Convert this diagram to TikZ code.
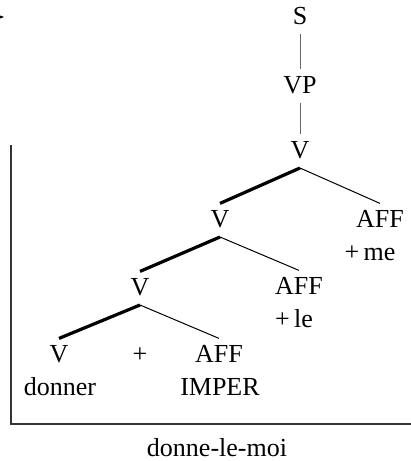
\documentclass[tikz,border=0pt]{standalone}
\usepackage{fontspec}
\setmainfont{Liberation Serif}
\usetikzlibrary{arrows.meta, positioning}

\begin{document}
\begin{tikzpicture}[
    x=0.5pt, y=-0.5pt,
    cat/.style={inner xsep=0pt, inner ysep=0pt, text height=11.6pt, text depth=4.8pt,
                anchor=base, font=\fontsize{13}{15}\selectfont},
    gloss/.style={inner sep=0pt, anchor=base, font=\fontsize{13}{15}\selectfont},
    head/.style={line width=1.6pt},
    dep/.style={line width=0.5pt},
    unary/.style={line width=0.5pt, draw=black!60},
    frameline/.style={line width=0.7pt, draw=black!80}
]
    \useasboundingbox (0,0) rectangle (411,461);

    % Stray arrow at the margin
    \coordinate (tip) at (4,17);
    \draw[-{Stealth[length=3pt]}, line width=0.4pt] (-10,17) -- (tip);

    % Frame
    \draw[frameline] (11,145) -- (11,424) -- (415,424);

    % Top of tree
    \node[cat] (s)  at (300,24)  {S};
    \node[cat] (vp) at (300,93)  {VP};
    \node[cat] (v1) at (300,158) {V};

    \draw[unary] (s) -- (vp);
    \draw[unary] (vp) -- (v1);

    % First split
    \node[cat] (v2)   at (220,227) {V};
    \node[cat] (aff1) at (380,227) {AFF};
    \node[gloss] (me) at (370,260) {+\,me};

    \draw[head] (v1.south) -- (v2.north);
    \draw[dep]  (v1.south) -- (aff1.north);

    % Second split
    \node[cat] (v3)   at (140,295) {V};
    \node[cat] (aff2) at (299,294) {AFF};
    \node[gloss] (le) at (294,327) {+\,le};

    \draw[head] (v2.south) -- (v3.north);
    \draw[dep]  (v2.south) -- (aff2.north);

    % Bottom row
    \node[cat] (v4)   at (59,362)  {V};
    \node[cat] (plus) at (140,362) {+};
    \node[cat] (aff3) at (219,362) {AFF};
    \node[gloss] (donner) at (60,395)  {donner};
    \node[gloss] (imper)  at (220,395) {IMPER};

    \draw[head] (v3.south) -- (v4.north);
    \draw[dep]  (v3.south) -- (aff3.north);

    % Result
    \node[gloss] (result) at (217,456) {donne-le-moi};
\end{tikzpicture}
\end{document}
